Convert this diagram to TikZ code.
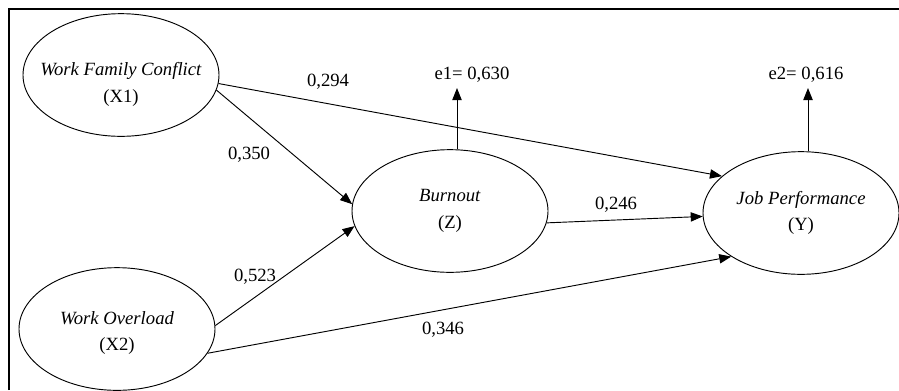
\documentclass[tikz,border=0pt]{standalone}
\usepackage{fontspec}
\setmainfont{Liberation Serif}
\usetikzlibrary{arrows.meta,shapes.geometric}

\tikzset{
  latent/.style={draw, ellipse, line width=0.7pt, inner sep=0pt,
    minimum width=147pt, minimum height=92pt},
  vname/.style={align=center, font=\fontsize{14}{20}\selectfont},
  coef/.style={font=\fontsize{14}{17}\selectfont, inner sep=1pt},
  path/.style={line width=0.7pt, -{Triangle[length=9pt,width=7pt]}}
}

\begin{document}
\begin{tikzpicture}[x=0.75pt, y=-0.75pt]
  \useasboundingbox (0,0) rectangle (899,390);
  % frame
  \draw[line width=1.6pt] (9,390) -- (9,9) -- (899,9);

  % constructs
  \node[latent, label={[vname, yshift=-7pt]center:{\textit{Work Family Conflict}\\(X1)}}] (x1) at (121,75) {};
  \node[latent, label={[vname, yshift=-3pt]center:{\textit{Work Overload}\\(X2)}}] (x2) at (117,329) {};
  \node[latent, label={[vname]center:{\textit{Burnout}\\(Z)}}] (z) at (450,211) {};
  \node[latent, label={[vname]center:{\textit{Job Performance}\\(Y)}}] (y) at (801,213) {};

  % residuals
  \coordinate (e1) at (457,88);
  \coordinate (e2) at (808,88);
  \node[coef] (e1lab) at (472,75) {e1= 0,630};
  \node[coef] (e2lab) at (806,75) {e2= 0,616};
  \draw[path] (z.north -| e1) -- (e1);
  \draw[path] (y.north -| e2) -- (e2);

  % paths
  \draw[path] (x1.-5) -- (y.155);
  \draw[path] (x1.-9) -- (z.176);
  \draw[path] (x2.2) -- (z.189);
  \draw[path] (x2.-15) -- (y.212);
  \draw[path] (z.-7) -- (y.182);

  % coefficients
  \node[coef] (b1) at (328,82) {0,294};
  \node[coef] (b2) at (249,155) {0,350};
  \node[coef] (b3) at (255,277) {0,523};
  \node[coef] (b4) at (443,330) {0,346};
  \node[coef] (b5) at (616,205) {0,246};
\end{tikzpicture}
\end{document}
